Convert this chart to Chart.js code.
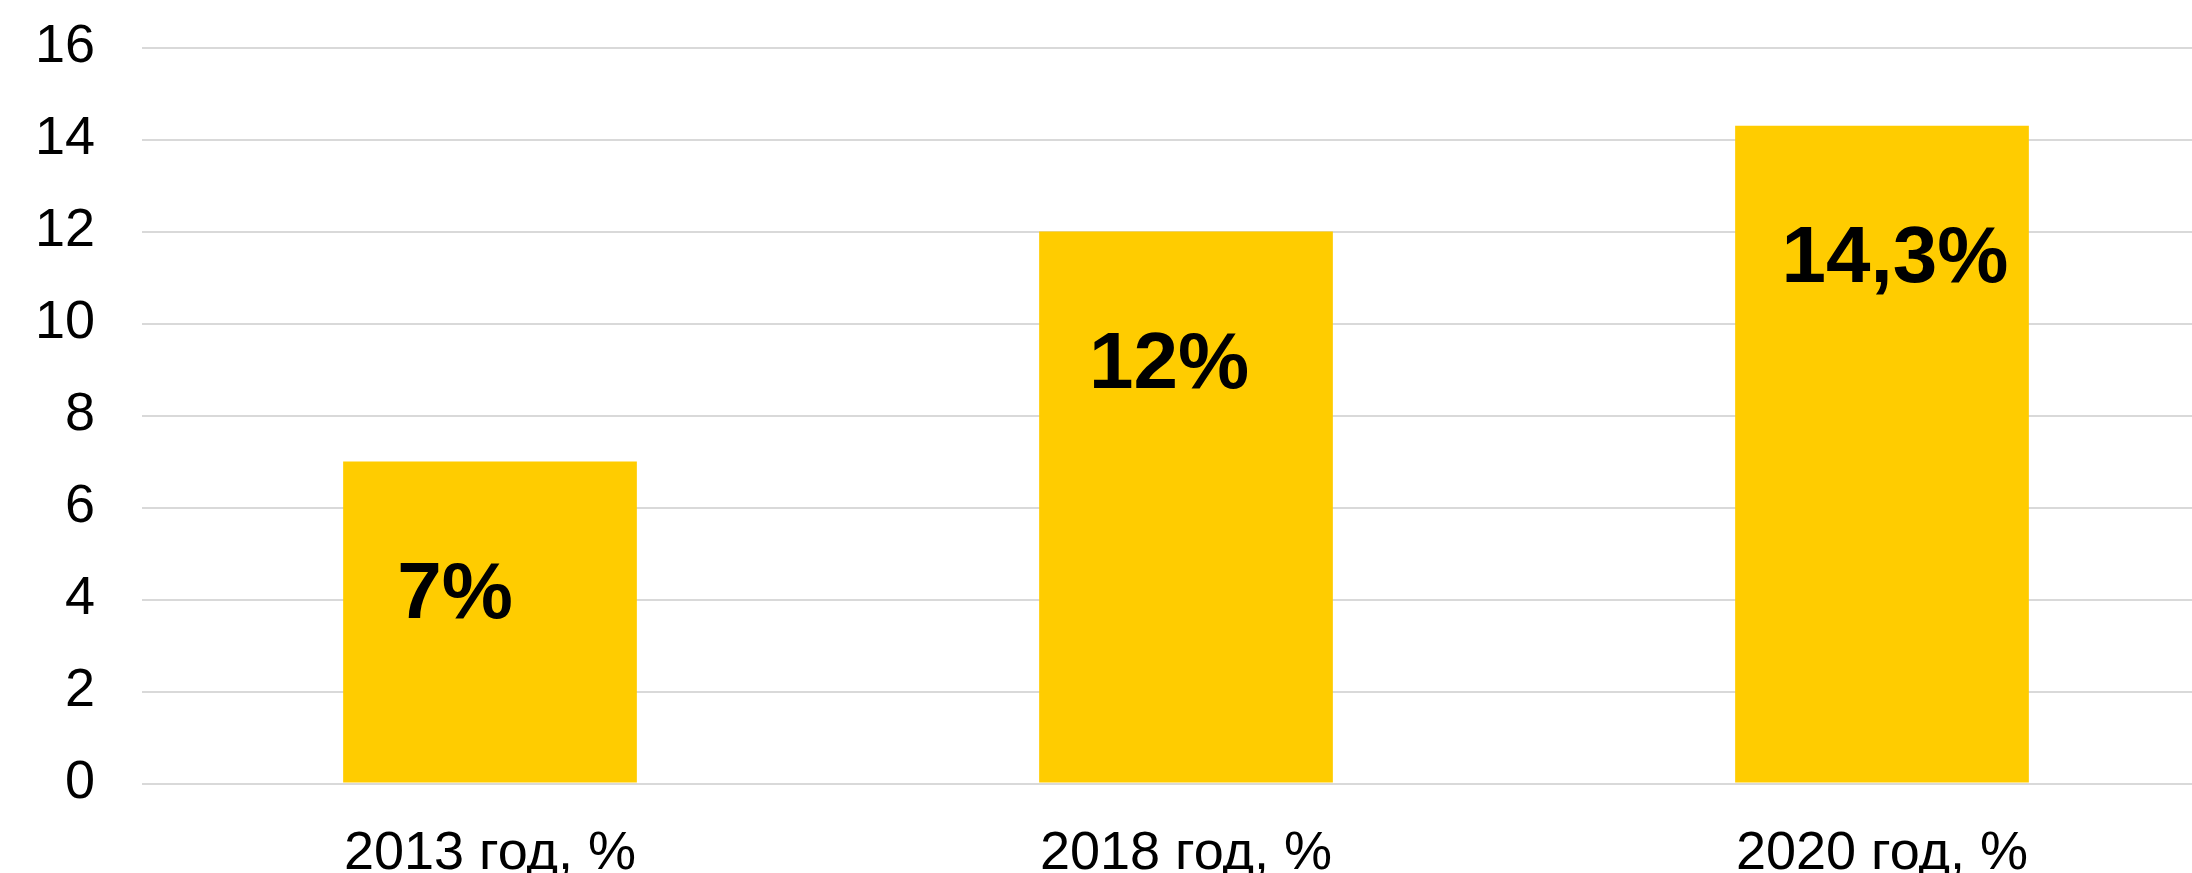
<!DOCTYPE html>
<html>
<head>
<meta charset="utf-8">
<script src="https://cdn.jsdelivr.net/npm/chart.js@4"></script>
<style>
  html, body { margin: 0; padding: 0; background: #fff; overflow: hidden; }
  canvas { display: block; }
</style>
</head>
<body>
<canvas id="chart" width="2240" height="873"></canvas>
<script>
const categories = ['2013 год, %', '2018 год, %', '2020 год, %'];
const shares = [7, 12, 14.3];
const yTicks = [0, 2, 4, 6, 8, 10, 12, 14, 16];

// label nudges (px), the labels are not centred in the original
const labelShiftX = [-35, -17, 13];

const valueLabels = {
    id: 'valueLabels',
    afterDatasetsDraw(chart) {
        const ctx = chart.ctx;
        const meta = chart.getDatasetMeta(0);
        ctx.save();
        ctx.font = 'bold 80px "Liberation Sans", Arial, sans-serif';
        ctx.fillStyle = '#000';
        ctx.textAlign = 'center';
        ctx.textBaseline = 'alphabetic';
        meta.data.forEach((bar, i) => {
            const txt = String(shares[i]).replace('.', ',') + '%';
            ctx.fillText(txt, bar.x + labelShiftX[i], bar.y + 156);
        });
        ctx.restore();
    }
};

const ctx = document.getElementById('chart').getContext('2d');
new Chart(ctx, {
    type: 'bar',
    data: {
        labels: categories,
        datasets: [{
            data: shares,
            backgroundColor: '#FFCC00',
            borderWidth: 0,
            barPercentage: 0.422,
            categoryPercentage: 1
        }]
    },
    options: {
        responsive: false,
        animation: false,
        devicePixelRatio: 1,
        layout: { padding: { top: 47.5, right: 10, bottom: 0, left: 0 } },
        plugins: {
            legend: { display: false },
            tooltip: { enabled: false }
        },
        scales: {
            x: {
                grid: { display: false },
                border: { display: false },
                ticks: {
                    color: '#000',
                    padding: 30,
                    font: { family: '"Liberation Sans", Arial, sans-serif', size: 54 }
                },
                afterFit: (scale) => { scale.height = 89.5; }
            },
            y: {
                min: 0,
                max: 16,
                afterBuildTicks: (scale) => { scale.ticks = yTicks.map(v => ({ value: v })); },
                grid: { color: '#d9d9d9', lineWidth: 2, drawTicks: false },
                border: { display: false },
                ticks: {
                    color: '#000',
                    padding: 47,
                    font: { family: '"Liberation Sans", Arial, sans-serif', size: 54 }
                },
                afterFit: (scale) => {
                    scale.width = 142;
                    scale.paddingTop = 0;
                    scale.paddingBottom = 0;
                }
            }
        }
    },
    plugins: [valueLabels]
});
</script>
</body>
</html>
